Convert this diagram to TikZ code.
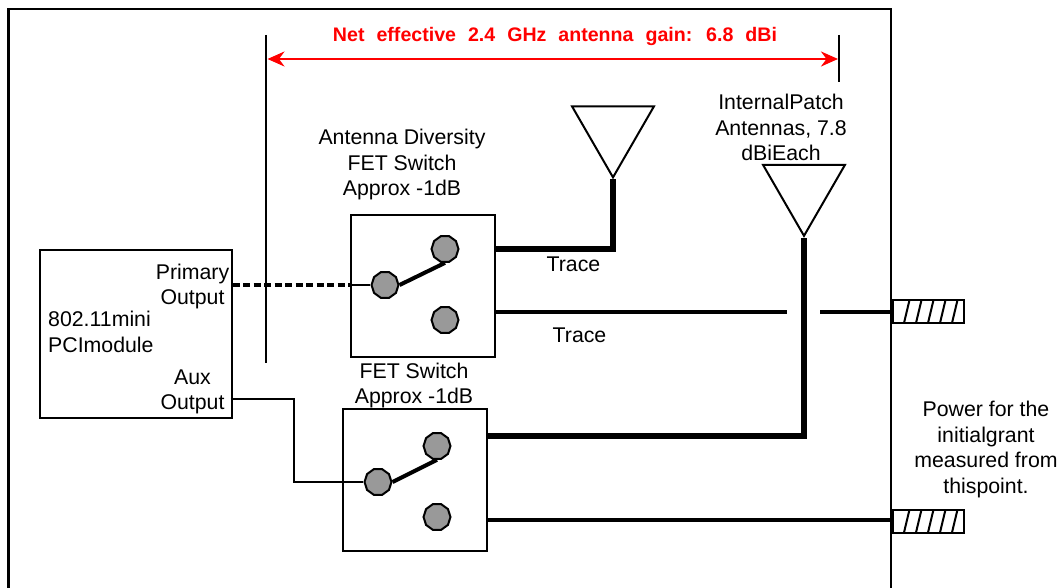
\documentclass[tikz,border=0pt]{standalone}
\usepackage{fontspec}
\setmainfont{Liberation Sans}
\usetikzlibrary{arrows.meta,shapes.geometric}
\tikzset{
  x=1pt,y=-1pt,
  lbl/.style={font=\fontsize{21.3}{25.5}\selectfont,align=center,inner sep=0pt},
  contact/.style={regular polygon,regular polygon sides=10,draw=black,line width=2pt,fill=black!40,minimum size=27pt,inner sep=0pt},
  swbox/.style={draw=black,line width=2pt,fill=white,inner sep=0pt},
  thin wire/.style={draw=black,line width=2pt},
  mid wire/.style={draw=black,line width=3.6pt},
  thick wire/.style={draw=black,line width=6pt},
  arm/.style={draw=black,line width=4pt},
  ant/.style={draw=black,line width=2pt,fill=white,isosceles triangle,isosceles triangle apex angle=60,shape border rotate=-90,minimum height=71pt,minimum width=1pt,inner sep=0pt},
  term/.style={draw=black,line width=2pt,fill=white,minimum width=71pt,minimum height=23pt,inner sep=0pt,anchor=west},
}
\begin{document}
\begin{tikzpicture}
\useasboundingbox (0,0) rectangle (1062,588);
% outer box
\draw[line width=2.4pt] (8.5,588) -- (8.5,9) -- (891,9) -- (891,588);
% dimension lines
\coordinate (dl) at (266,35); \coordinate (dlb) at (266,363);
\coordinate (dr) at (839,35); \coordinate (drb) at (839,82);
\draw[line width=2pt] (dl) -- (dlb);
\draw[line width=2pt] (dr) -- (drb);
\coordinate (al) at (267.5,59); \coordinate (ar) at (838,59);
\draw[red,line width=2.2pt,{Stealth[length=17pt,width=15pt]}-{Stealth[length=17pt,width=15pt]}] (al) -- (ar);
\node[lbl,text=red,font=\fontsize{19.6}{22}\bfseries\selectfont] (gain) at (555,36) {Net\,\, effective\,\, 2.4\,\, GHz\,\, antenna\,\, gain:\,\, 6.8\,\, dBi};
% module
\node[swbox,minimum width=192pt,minimum height=168pt,anchor=north west] (mod) at (38.5,249) {};
\node[lbl,font=\fontsize{21.3}{24.5}\selectfont] (prim) at (192.5,286.5) {Primary\\Output};
\node[lbl,align=left,anchor=west] (mname) at (48,332) {802.11mini\\PCImodule};
\node[lbl,font=\fontsize{21.3}{25}\selectfont] (aux) at (192.5,392) {Aux\\Output};
% upper switch
\node[swbox,minimum width=144pt,minimum height=142pt,anchor=north west] (sa) at (349.5,213.5) {};
\node[contact] (sac) at (385,285) {};
\node[contact] (sat) at (445,249) {};
\node[contact] (sab) at (445,320) {};
\draw[arm] (sac.east) -- (sat.south);
\coordinate (sain) at (sa.west|-sac);
\draw[mid wire,dash pattern=on 7pt off 3.5pt] (mod.east|-sac) -- (sain);
\draw[thin wire] (sain) -- (sac);
% lower switch
\node[swbox,minimum width=144pt,minimum height=142pt,anchor=north west] (sb) at (341.5,407.5) {};
\node[contact] (sbc) at (378,482) {};
\node[contact] (sbt) at (437,446) {};
\node[contact] (sbb) at (437,517) {};
\draw[arm] (sbc.east) -- (sbt.south);
\coordinate (auxout) at (230.5,399);
\coordinate (auxbend) at (294,399);
\draw[thin wire] (auxout) -- (auxbend) -- (auxbend|-sbc) -- (sbc);
% switch labels
\node[lbl] (dlab) at (402,164.5) {Antenna Diversity\\FET Switch\\Approx -1dB};
\node[lbl] (flab) at (414,385.5) {FET Switch\\Approx -1dB};
% antennas
\node[ant] (a1) at (613,130) {};
\node[ant] (a2) at (804,188.5) {};
\node[lbl] (plab) at (781,127.5) {InternalPatch\\Antennas, 7.8\\dBiEach};
% terminals
\node[term] (ta) at (892,311.5) {};
\node[term] (tb) at (892,521) {};
\foreach \n/\y in {ta/311.5,tb/521}{
  \foreach \i in {0,1,2,3,4}{
    \draw[line width=2pt] (909.5+12*\i,\y-11.5) -- (904+12*\i,\y+11.5);
  }
}
% traces
\draw[thick wire,line join=miter] (sa.east|-sat) -- (a1.apex|-sat) -- (a1.apex);
\coordinate (sbout) at (sb.east|-0,436);
\draw[thick wire,line join=miter] (sbout) -- (a2.apex|-sbout) -- (a2.apex);
\coordinate (gapl) at (787,312); \coordinate (gapr) at (820,312);
\draw[mid wire] (sa.east|-gapl) -- (gapl);
\draw[mid wire] (gapr) -- (ta.west|-gapr);
\coordinate (sbl) at (sb.east|-0,520);
\draw[mid wire] (sbl) -- (tb.west|-sbl);
\node[lbl] (t1) at (573.5,264) {Trace};
\node[lbl] (t2) at (579.5,335) {Trace};
\node[lbl] (pw) at (986,449.5) {Power for the\\initialgrant\\measured from\\thispoint.};
\end{tikzpicture}
\end{document}
